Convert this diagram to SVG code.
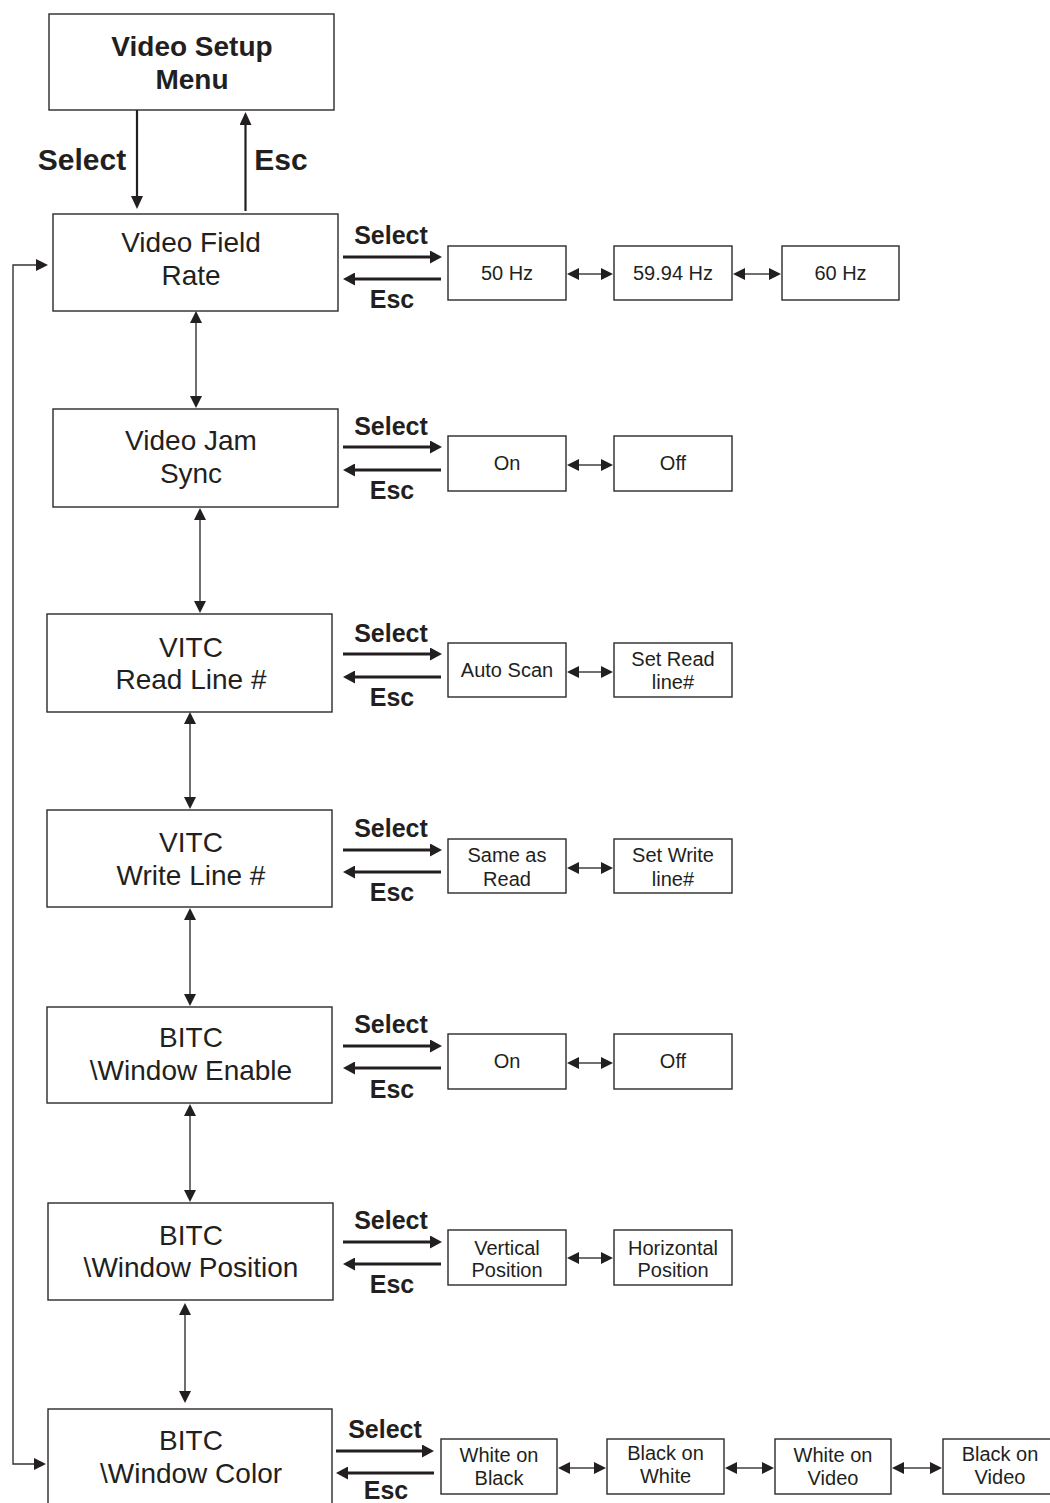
<svg xmlns="http://www.w3.org/2000/svg" width="1050" height="1503" viewBox="0 0 1050 1503">
<defs>
<style>
.bx{fill:#fff;stroke:#2a2a2a;stroke-width:1.4}
.t{font-family:"Liberation Sans",Arial,sans-serif;fill:#231f20;text-anchor:middle}
.main{font-size:28px}
.top{font-size:28px;font-weight:bold}
.big{font-size:30px;font-weight:bold}
.lab{font-size:25px;font-weight:bold}
.opt{font-size:20px}
.thick{stroke:#231f20;stroke-width:3;fill:none}
.med{stroke:#231f20;stroke-width:2.2;fill:none}
.thin{stroke:#333;stroke-width:1.4;fill:none}
</style>
<marker id="hd" viewBox="0 0 12 13" refX="2" refY="6.5" markerWidth="12" markerHeight="13" markerUnits="userSpaceOnUse" orient="auto-start-reverse"><path d="M0,0 L12,6.5 L0,13 z" fill="#231f20"/></marker>
<marker id="hm" viewBox="0 0 13 12" refX="2" refY="6" markerWidth="13" markerHeight="12" markerUnits="userSpaceOnUse" orient="auto-start-reverse"><path d="M0,0 L13,6 L0,12 z" fill="#231f20"/></marker>
<marker id="hs" viewBox="0 0 12 12" refX="2" refY="6" markerWidth="12" markerHeight="12" markerUnits="userSpaceOnUse" orient="auto-start-reverse"><path d="M0,0 L12,6 L0,12 z" fill="#231f20"/></marker>
</defs>
<rect width="1050" height="1503" fill="#fff"/>

<g id="connectors">
<!-- top -->
<line class="med" x1="137" y1="110" x2="137" y2="198" marker-end="url(#hm)"/>
<line class="med" x1="245.5" y1="211" x2="245.5" y2="123" marker-end="url(#hm)"/>
<text class="t big" x="82" y="170">Select</text>
<text class="t big" x="281" y="170">Esc</text>
<!-- feedback loop -->
<path class="thin" d="M38,265 L13,265 L13,1464 L36,1464" marker-start="url(#hs)" marker-end="url(#hs)"/>
<!-- vertical double arrows -->
<line class="thin" x1="196" y1="321" x2="196" y2="398" marker-start="url(#hs)" marker-end="url(#hs)"/>
<line class="thin" x1="200" y1="518" x2="200" y2="603" marker-start="url(#hs)" marker-end="url(#hs)"/>
<line class="thin" x1="190" y1="722" x2="190" y2="799" marker-start="url(#hs)" marker-end="url(#hs)"/>
<line class="thin" x1="190" y1="918" x2="190" y2="996" marker-start="url(#hs)" marker-end="url(#hs)"/>
<line class="thin" x1="190" y1="1114" x2="190" y2="1192" marker-start="url(#hs)" marker-end="url(#hs)"/>
<line class="thin" x1="185" y1="1313" x2="185" y2="1393" marker-start="url(#hs)" marker-end="url(#hs)"/>
<!-- select/esc rows -->
<line class="thick" x1="343" y1="257" x2="432" y2="257" marker-end="url(#hd)"/>
<line class="thick" x1="441" y1="279" x2="353" y2="279" marker-end="url(#hd)"/>
<text class="t lab" x="391" y="244">Select</text>
<text class="t lab" x="392" y="308">Esc</text>

<line class="thick" x1="343" y1="447" x2="432" y2="447" marker-end="url(#hd)"/>
<line class="thick" x1="441" y1="470" x2="353" y2="470" marker-end="url(#hd)"/>
<text class="t lab" x="391" y="435">Select</text>
<text class="t lab" x="392" y="499">Esc</text>

<line class="thick" x1="343" y1="654" x2="432" y2="654" marker-end="url(#hd)"/>
<line class="thick" x1="441" y1="677" x2="353" y2="677" marker-end="url(#hd)"/>
<text class="t lab" x="391" y="642">Select</text>
<text class="t lab" x="392" y="706">Esc</text>

<line class="thick" x1="343" y1="850" x2="432" y2="850" marker-end="url(#hd)"/>
<line class="thick" x1="441" y1="872" x2="353" y2="872" marker-end="url(#hd)"/>
<text class="t lab" x="391" y="837">Select</text>
<text class="t lab" x="392" y="901">Esc</text>

<line class="thick" x1="343" y1="1046" x2="432" y2="1046" marker-end="url(#hd)"/>
<line class="thick" x1="441" y1="1068" x2="353" y2="1068" marker-end="url(#hd)"/>
<text class="t lab" x="391" y="1033">Select</text>
<text class="t lab" x="392" y="1098">Esc</text>

<line class="thick" x1="343" y1="1242" x2="432" y2="1242" marker-end="url(#hd)"/>
<line class="thick" x1="441" y1="1264" x2="353" y2="1264" marker-end="url(#hd)"/>
<text class="t lab" x="391" y="1229">Select</text>
<text class="t lab" x="392" y="1293">Esc</text>

<line class="thick" x1="336" y1="1451" x2="424" y2="1451" marker-end="url(#hd)"/>
<line class="thick" x1="434" y1="1473" x2="346" y2="1473" marker-end="url(#hd)"/>
<text class="t lab" x="385" y="1438">Select</text>
<text class="t lab" x="386" y="1499">Esc</text>
<!-- option double arrows -->
<line class="thin" x1="577" y1="274" x2="603" y2="274" marker-start="url(#hs)" marker-end="url(#hs)"/>
<line class="thin" x1="743" y1="274" x2="771" y2="274" marker-start="url(#hs)" marker-end="url(#hs)"/>
<line class="thin" x1="577" y1="465" x2="603" y2="465" marker-start="url(#hs)" marker-end="url(#hs)"/>
<line class="thin" x1="577" y1="672" x2="603" y2="672" marker-start="url(#hs)" marker-end="url(#hs)"/>
<line class="thin" x1="577" y1="868" x2="603" y2="868" marker-start="url(#hs)" marker-end="url(#hs)"/>
<line class="thin" x1="577" y1="1063" x2="603" y2="1063" marker-start="url(#hs)" marker-end="url(#hs)"/>
<line class="thin" x1="577" y1="1258" x2="603" y2="1258" marker-start="url(#hs)" marker-end="url(#hs)"/>
<line class="thin" x1="568" y1="1468" x2="596" y2="1468" marker-start="url(#hs)" marker-end="url(#hs)"/>
<line class="thin" x1="735" y1="1468" x2="764" y2="1468" marker-start="url(#hs)" marker-end="url(#hs)"/>
<line class="thin" x1="902" y1="1468" x2="932" y2="1468" marker-start="url(#hs)" marker-end="url(#hs)"/>
</g>

<g id="n-setup"><rect class="bx" x="49" y="14" width="285" height="96"/><text class="t top" x="192" y="56">Video Setup</text><text class="t top" x="192" y="89">Menu</text></g>

<g id="n-fieldrate"><rect class="bx" x="53" y="214" width="285" height="97"/><text class="t main" x="191" y="252">Video Field</text><text class="t main" x="191" y="285">Rate</text></g>
<g id="o-50"><rect class="bx" x="448" y="246" width="118" height="54"/><text class="t opt" x="507" y="280">50 Hz</text></g>
<g id="o-5994"><rect class="bx" x="614" y="246" width="118" height="54"/><text class="t opt" x="673" y="280">59.94 Hz</text></g>
<g id="o-60"><rect class="bx" x="782" y="246" width="117" height="54"/><text class="t opt" x="840.5" y="280">60 Hz</text></g>

<g id="n-jamsync"><rect class="bx" x="53" y="409" width="285" height="98"/><text class="t main" x="191" y="450">Video Jam</text><text class="t main" x="191" y="483">Sync</text></g>
<g id="o-jam-on"><rect class="bx" x="448" y="436" width="118" height="55"/><text class="t opt" x="507" y="470">On</text></g>
<g id="o-jam-off"><rect class="bx" x="614" y="436" width="118" height="55"/><text class="t opt" x="673" y="470">Off</text></g>

<g id="n-readline"><rect class="bx" x="47" y="614" width="285" height="98"/><text class="t main" x="191" y="657">VITC</text><text class="t main" x="191" y="689">Read Line #</text></g>
<g id="o-autoscan"><rect class="bx" x="448" y="643" width="118" height="54"/><text class="t opt" x="507" y="677">Auto Scan</text></g>
<g id="o-setread"><rect class="bx" x="614" y="643" width="118" height="54"/><text class="t opt" x="673" y="666">Set Read</text><text class="t opt" x="673" y="689">line#</text></g>

<g id="n-writeline"><rect class="bx" x="47" y="810" width="285" height="97"/><text class="t main" x="191" y="852">VITC</text><text class="t main" x="191" y="885">Write Line #</text></g>
<g id="o-sameas"><rect class="bx" x="448" y="839" width="118" height="54"/><text class="t opt" x="507" y="862">Same as</text><text class="t opt" x="507" y="886">Read</text></g>
<g id="o-setwrite"><rect class="bx" x="614" y="839" width="118" height="54"/><text class="t opt" x="673" y="862">Set Write</text><text class="t opt" x="673" y="886">line#</text></g>

<g id="n-winenable"><rect class="bx" x="47" y="1007" width="285" height="96"/><text class="t main" x="191" y="1047">BITC</text><text class="t main" x="191" y="1080">\Window Enable</text></g>
<g id="o-en-on"><rect class="bx" x="448" y="1034" width="118" height="55"/><text class="t opt" x="507" y="1068">On</text></g>
<g id="o-en-off"><rect class="bx" x="614" y="1034" width="118" height="55"/><text class="t opt" x="673" y="1068">Off</text></g>

<g id="n-winpos"><rect class="bx" x="48" y="1203" width="285" height="97"/><text class="t main" x="191" y="1245">BITC</text><text class="t main" x="191" y="1277">\Window Position</text></g>
<g id="o-vert"><rect class="bx" x="448" y="1230" width="118" height="55"/><text class="t opt" x="507" y="1255">Vertical</text><text class="t opt" x="507" y="1277">Position</text></g>
<g id="o-horiz"><rect class="bx" x="614" y="1230" width="118" height="55"/><text class="t opt" x="673" y="1255">Horizontal</text><text class="t opt" x="673" y="1277">Position</text></g>

<g id="n-wincolor"><rect class="bx" x="48" y="1409" width="284" height="110"/><text class="t main" x="191" y="1450">BITC</text><text class="t main" x="191" y="1483">\Window Color</text></g>
<g id="o-wob"><rect class="bx" x="441" y="1439" width="116" height="55"/><text class="t opt" x="499" y="1462">White on</text><text class="t opt" x="499" y="1485">Black</text></g>
<g id="o-bow"><rect class="bx" x="607" y="1439" width="117" height="55"/><text class="t opt" x="665.5" y="1460">Black on</text><text class="t opt" x="665.5" y="1483">White</text></g>
<g id="o-wov"><rect class="bx" x="775" y="1439" width="116" height="55"/><text class="t opt" x="833" y="1462">White on</text><text class="t opt" x="833" y="1485">Video</text></g>
<g id="o-bov"><rect class="bx" x="943" y="1439" width="114" height="55"/><text class="t opt" x="1000" y="1461">Black on</text><text class="t opt" x="1000" y="1484">Video</text></g>
</svg>
